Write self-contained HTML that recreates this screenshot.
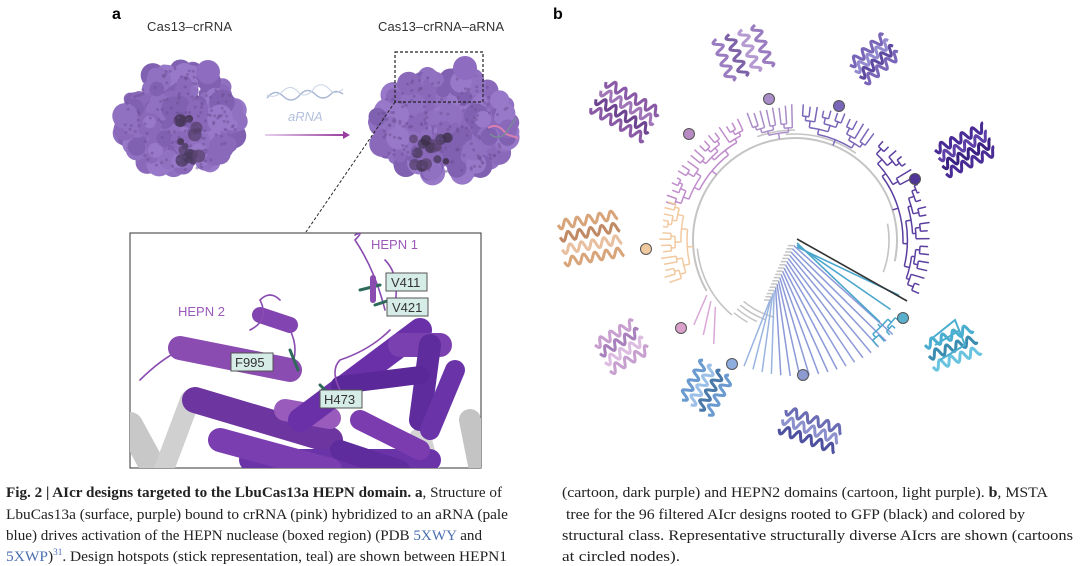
<!DOCTYPE html>
<html><head><meta charset="utf-8"><style>
html,body{margin:0;padding:0;background:#fff;}
svg{display:block}
</style></head><body>
<svg id="s" width="1080" height="566" viewBox="0 0 1080 566" xmlns="http://www.w3.org/2000/svg">
<defs>
<linearGradient id="ag" x1="0" x2="1"><stop offset="0" stop-color="#e6d0ec"/><stop offset="1" stop-color="#9a3fa0"/></linearGradient>
<clipPath id="ic"><rect x="130" y="233" width="351" height="235"/></clipPath>
</defs>
<rect width="1080" height="566" fill="#fff"/>
<g id="blobs"></g>
<text x="112" y="19" font-family="Liberation Sans, sans-serif" font-weight="bold" font-size="16">a</text>
<text x="147" y="31" font-family="Liberation Sans, sans-serif" font-size="13" fill="#333" textLength="85">Cas13–crRNA</text>
<text x="378" y="31" font-family="Liberation Sans, sans-serif" font-size="13" fill="#333" textLength="126">Cas13–crRNA–aRNA</text>
<text x="553" y="19" font-family="Liberation Sans, sans-serif" font-weight="bold" font-size="16">b</text>
<path d="M267,98 q8,-10 16,-2 q8,8 16,0 q8,-10 16,-2 q8,8 16,0 q5,-5 12,0" fill="none" stroke="#aab8d4" stroke-width="1.5"/>
<path d="M267,95 q8,4 16,-4 q8,-8 16,2 q8,6 16,-6 q8,-6 16,4 q5,4 12,-2" fill="none" stroke="#c8d2e6" stroke-width="1"/>
<text x="288" y="121" font-family="Liberation Sans, sans-serif" font-style="italic" font-size="13" fill="#b4c0dc">aRNA</text>
<rect x="265" y="134" width="80" height="2" fill="url(#ag)"/>
<path d="M343,131 L350,135 L343,139 Z" fill="#9a3fa0"/>
<rect x="395" y="52" width="88" height="50" fill="none" stroke="#222" stroke-width="1.2" stroke-dasharray="3,2"/>
<line x1="395" y1="102" x2="306" y2="232" stroke="#222" stroke-width="1" stroke-dasharray="3,2"/>
<path d="M488,128 q10,-6 18,6 l12,4" fill="none" stroke="#d880b0" stroke-width="2"/>
<path d="M490,134 q10,8 18,-4 l8,-12" fill="none" stroke="#7a8a96" stroke-width="1.5"/>
<rect x="130" y="233" width="351" height="235" fill="#fff" stroke="#333" stroke-width="1"/>
<g clip-path="url(#ic)" stroke-linecap="round" fill="none">
 <line x1="130" y1="425" x2="160" y2="480" stroke="#c8c8c8" stroke-width="26"/>
 <line x1="190" y1="400" x2="160" y2="480" stroke="#d0d0d0" stroke-width="20"/>
 <line x1="420" y1="440" x2="430" y2="480" stroke="#d4d4d4" stroke-width="24"/>
 <line x1="470" y1="420" x2="480" y2="470" stroke="#c4c4c4" stroke-width="22"/>
 <line x1="195" y1="400" x2="330" y2="440" stroke="#6d35a0" stroke-width="26"/>
 <line x1="180" y1="348" x2="290" y2="370" stroke="#8a4cb0" stroke-width="24"/>
 <line x1="285" y1="410" x2="330" y2="418" stroke="#9a5cbc" stroke-width="22"/>
 <line x1="260" y1="315" x2="290" y2="325" stroke="#8144b0" stroke-width="16"/>
 <line x1="300" y1="420" x2="420" y2="330" stroke="#6a30a8" stroke-width="24"/>
 <line x1="400" y1="345" x2="440" y2="345" stroke="#7a40b0" stroke-width="24"/>
 <line x1="430" y1="345" x2="420" y2="420" stroke="#5e2c9c" stroke-width="22"/>
 <line x1="455" y1="370" x2="430" y2="430" stroke="#6a34a8" stroke-width="20"/>
 <line x1="340" y1="385" x2="420" y2="375" stroke="#5a2898" stroke-width="18"/>
 <line x1="250" y1="460" x2="430" y2="460" stroke="#6a34a8" stroke-width="22"/>
 <line x1="360" y1="420" x2="420" y2="450" stroke="#7b3cb0" stroke-width="20"/>
 <line x1="220" y1="440" x2="330" y2="470" stroke="#7a3eb0" stroke-width="24"/>
 <line x1="340" y1="450" x2="400" y2="470" stroke="#5e2c9c" stroke-width="20"/>
 <path d="M140,380 q20,-20 40,-30 M250,330 q20,-10 10,-30 q10,-10 20,0 M290,330 q10,20 0,40 M385,310 q-10,-40 -30,-70 q10,-10 0,-5 M395,305 q5,-30 -10,-45 M390,330 q-20,20 -50,30 q-10,10 0,30" stroke="#8a4cb0" stroke-width="1.6"/>
 <path d="M360,290 l20,-5 M375,305 l15,-5 M290,350 l8,20 M320,385 l10,10" stroke="#2d6a5a" stroke-width="3"/>
 <line x1="373" y1="278" x2="373" y2="300" stroke="#8a4cb0" stroke-width="6"/>
</g>
<g font-family="Liberation Sans, sans-serif" font-size="13">
 <text x="371" y="249" fill="#9b5ab8">HEPN 1</text>
 <text x="178" y="316" fill="#9b5ab8">HEPN 2</text>
 <rect x="386" y="273" width="41" height="18" fill="#d6ece6" stroke="#555"/><text x="391" y="287" fill="#333">V411</text>
 <rect x="387" y="298" width="41" height="18" fill="#d6ece6" stroke="#555"/><text x="392" y="312" fill="#333">V421</text>
 <rect x="231" y="353" width="42" height="18" fill="#d6ece6" stroke="#555"/><text x="235" y="367" fill="#333">F995</text>
 <rect x="320" y="390" width="42" height="18" fill="#d6ece6" stroke="#555"/><text x="324" y="404" fill="#333">H473</text>
</g>
<g id="tree" fill="none" stroke-linecap="butt"></g>
<g id="prots" fill="none"></g>
<g id="nodes"></g>
<g font-family="Liberation Serif, serif" font-size="15" fill="#222">
<text x="6" y="497" textLength="496" lengthAdjust="spacingAndGlyphs"><tspan font-weight="bold">Fig. 2 | AIcr designs targeted to the LbuCas13a HEPN domain. a</tspan>, Structure of</text>
<text x="6" y="519" textLength="502" lengthAdjust="spacingAndGlyphs">LbuCas13a (surface, purple) bound to crRNA (pink) hybridized to an aRNA (pale</text>
<text x="6" y="540" textLength="476" lengthAdjust="spacingAndGlyphs">blue) drives activation of the HEPN nuclease (boxed region) (PDB <tspan fill="#4a6fb0">5XWY</tspan> and</text>
<text x="6" y="561" textLength="501" lengthAdjust="spacingAndGlyphs"><tspan fill="#4a6fb0">5XWP</tspan>)<tspan font-size="9" dy="-6" fill="#4a6fb0">31</tspan><tspan dy="6">. Design hotspots (stick representation, teal) are shown between HEPN1</tspan></text>
<text x="562" y="497" textLength="486" lengthAdjust="spacingAndGlyphs">(cartoon, dark purple) and HEPN2 domains (cartoon, light purple). <tspan font-weight="bold">b</tspan>, MSTA</text>
<text x="566" y="519" textLength="459" lengthAdjust="spacingAndGlyphs">tree for the 96 filtered AIcr designs rooted to GFP (black) and colored by</text>
<text x="562" y="540" textLength="511" lengthAdjust="spacingAndGlyphs">structural class. Representative structurally diverse AIcrs are shown (cartoons</text>
<text x="562" y="561" textLength="118" lengthAdjust="spacingAndGlyphs">at circled nodes).</text>
</g>
</svg>
<script>
var NS="http://www.w3.org/2000/svg";
function el(p,t,a){var e=document.createElementNS(NS,t);for(var k in a)e.setAttribute(k,a[k]);p.appendChild(e);return e;}
var seed=7;function rnd(){seed=(seed*9301+49297)%233280;return seed/233280;}
var B=document.getElementById('blobs');
function blob(cx,cy,rx,ry,n,hole){
 for(var i=0;i<n;i++){var a=rnd()*6.283,r=Math.sqrt(rnd());var x=cx+Math.cos(a)*rx*r,y=cy+Math.sin(a)*ry*r;
  el(B,'circle',{cx:x,cy:y,r:6+rnd()*7,fill:['#9070c0','#9878c8','#8a68ba','#8060b0'][i%4]});}
 for(var i=0;i<14;i++){var x=hole[0]+(rnd()-.5)*hole[2],y=hole[1]+(rnd()-.5)*hole[3];el(B,'circle',{cx:x,cy:y,r:3+rnd()*4,fill:['#4a3a5e','#5a4470','#3c3048'][i%3],opacity:.8});}
 for(var i=0;i<150;i++){var a=rnd()*6.283,r=Math.sqrt(rnd());el(B,'circle',{cx:cx+Math.cos(a)*rx*r,cy:cy+Math.sin(a)*ry*r,r:1.5,fill:'#6a4e94',opacity:.5});}
}
blob(180,120,58,52,260,[190,135,20,60]);
el(B,'circle',{cx:208,cy:72,r:12,fill:'#8e6cc0'});
blob(444,125,68,50,300,[430,150,35,35]);
el(B,'circle',{cx:465,cy:68,r:12,fill:'#8e6cc0'});
var T=document.getElementById('tree'),cx=795,cy=240,RO=136;
function P(r,d){var a=d*Math.PI/180;return [cx+r*Math.cos(a),cy+r*Math.sin(a)];}
function arc(r,a1,a2,c,w){if(a2<a1){var t=a1;a1=a2;a2=t;}var p=P(r,a1),q=P(r,a2);el(T,'path',{d:'M'+p+' A'+r+','+r+' 0 '+((a2-a1)>180?1:0)+' 1 '+q,stroke:c,'stroke-width':w||1.5});}
function rad(r1,r2,d,c,w){var p=P(r1,d),q=P(r2,d);el(T,'line',{x1:p[0],y1:p[1],x2:q[0],y2:q[1],stroke:c,'stroke-width':w||1.5});}
var G='#c4c4c4';
arc(102,150,372,G,2);arc(98,130,175,G,1.6);arc(106,-95,-55,G,1.6);arc(110,-110,-90,G,1.6);arc(94,-10,20,G,1.6);
for(var r=80;r<100;r+=5)arc(r,105+(r-80),130,G,1.5);
function node(a1,a2,n,p,r,c){
 if(n==1){var m=(a1+a2)/2;rad(p,RO-rnd()*4,m,c);return m;}
 var k=Math.max(1,Math.min(n-1,Math.round(n*(0.3+rnd()*0.4))));
 var mid=a1+(a2-a1)*k/n;var dr=3+rnd()*4;if(r+dr>RO-4)dr=Math.max(1,(RO-4-r)/2);
 var m1=node(a1,mid,k,r,r+dr,c),m2=node(mid,a2,n-k,r,r+dr,c);
 arc(r,m1,m2,c);var m=(m1+m2)/2;rad(p,r,m,c);return m;}
function clade(a1,a2,c,n){node(a1,a2,n,102,108,c);}
clade(-50,25,'#5b3fa0',22);
clade(-88,-52,'#7a66b8',12);
clade(-112,-90,'#a98cc8',8);
clade(-165,-114,'#c08ccc',18);
clade(160,198,'#f2c9a0',14);
for(var i=0;i<3;i++){var q=P(RO-4,128+i*6),p=P(104,140+i*4);el(T,'line',{x1:p[0],y1:p[1],x2:q[0],y2:q[1],stroke:'#d9a8d8','stroke-width':1.5});}
for(var i=0;i<18;i++){var d=112-i*4;var y0=300-i*3.2,x0=770+i*1.4;var q=P(RO,d);
 el(T,'line',{x1:x0,y1:y0,x2:q[0],y2:q[1],stroke:i<4?'#9ab4e0':'#8c9ad8','stroke-width':1.5});
 el(T,'line',{x1:x0-6,y1:y0,x2:x0,y2:y0,stroke:G,'stroke-width':1.5});}
for(var i=0;i<3;i++){var d=44-i*8;var q=P(118,d);el(T,'line',{x1:797,y1:243+i*2,x2:q[0],y2:q[1],stroke:'#4aa6cc','stroke-width':1.6});}
node(36,54,5,118,122,'#4aa6cc');
el(T,'line',{x1:797,y1:239,x2:907,y2:301,stroke:'#333','stroke-width':1.6});
var N=document.getElementById('nodes');
[[769,99,'#a98cc8'],[839,106,'#7a66b8'],[915,179,'#4e3596'],[689,134,'#b88ac4'],[646,249,'#f0c8a0'],[681,328,'#d9a0cc'],[732,364,'#8eaee0'],[803,375,'#8c9ad0'],[903,318,'#5ab0cc']].forEach(function(n){el(N,'circle',{cx:n[0],cy:n[1],r:5.5,fill:n[2],stroke:'#555','stroke-width':1});});
var PR=document.getElementById('prots');
function helix(x,y,len,ang,c,amp){var s='',a=ang*Math.PI/180,ca=Math.cos(a),sa=Math.sin(a);
 for(var t=0;t<=len;t+=1){var o=Math.sin(t*0.55)*(amp||4.5);var px=x+t*ca-o*sa,py=y+t*sa+o*ca;s+=(t?'L':'M')+px.toFixed(1)+','+py.toFixed(1);}
 el(PR,'path',{d:s,stroke:c,'stroke-width':3,'stroke-linejoin':'round'});}
function cart(x,y,w,h,ang,cs,k){for(var i=0;i<k;i++){helix(x+i*(h/k)*Math.sin(-ang*Math.PI/180),y+i*(h/k)*Math.cos(ang*Math.PI/180),w,ang,cs[i%cs.length]);}}
cart(606,82,62,40,30,['#8a5aa6','#a076b8','#6e4490'],4);
cart(755,25,45,55,70,['#9a7cc0','#b49ad0','#7e62a8'],4);
cart(850,65,45,30,-40,['#7a66b8','#948ad0','#5e4aa0'],4);
cart(935,150,55,35,-25,['#4a2c96','#5e40a8','#3a2080'],4);
cart(558,225,60,50,-10,['#d8a47a','#c08a64','#e8c0a0'],4);
cart(595,345,45,40,-30,['#c8a0d0','#a880bc','#dcbce0'],4);
cart(682,400,45,40,-60,['#6a9ad0','#9cc0e8','#4a78a8'],4);
cart(786,410,60,30,20,['#6a6cb4','#8c90cc','#4e50a0'],3);
cart(925,345,50,35,-20,['#4aaed0','#3a8cb0','#6ac4e0'],3);
el(PR,'path',{d:'M930,340 L955,320 L965,345 L940,360 M935,345 L960,330',stroke:'#4aaed0','stroke-width':2});
</script>
</body></html>
